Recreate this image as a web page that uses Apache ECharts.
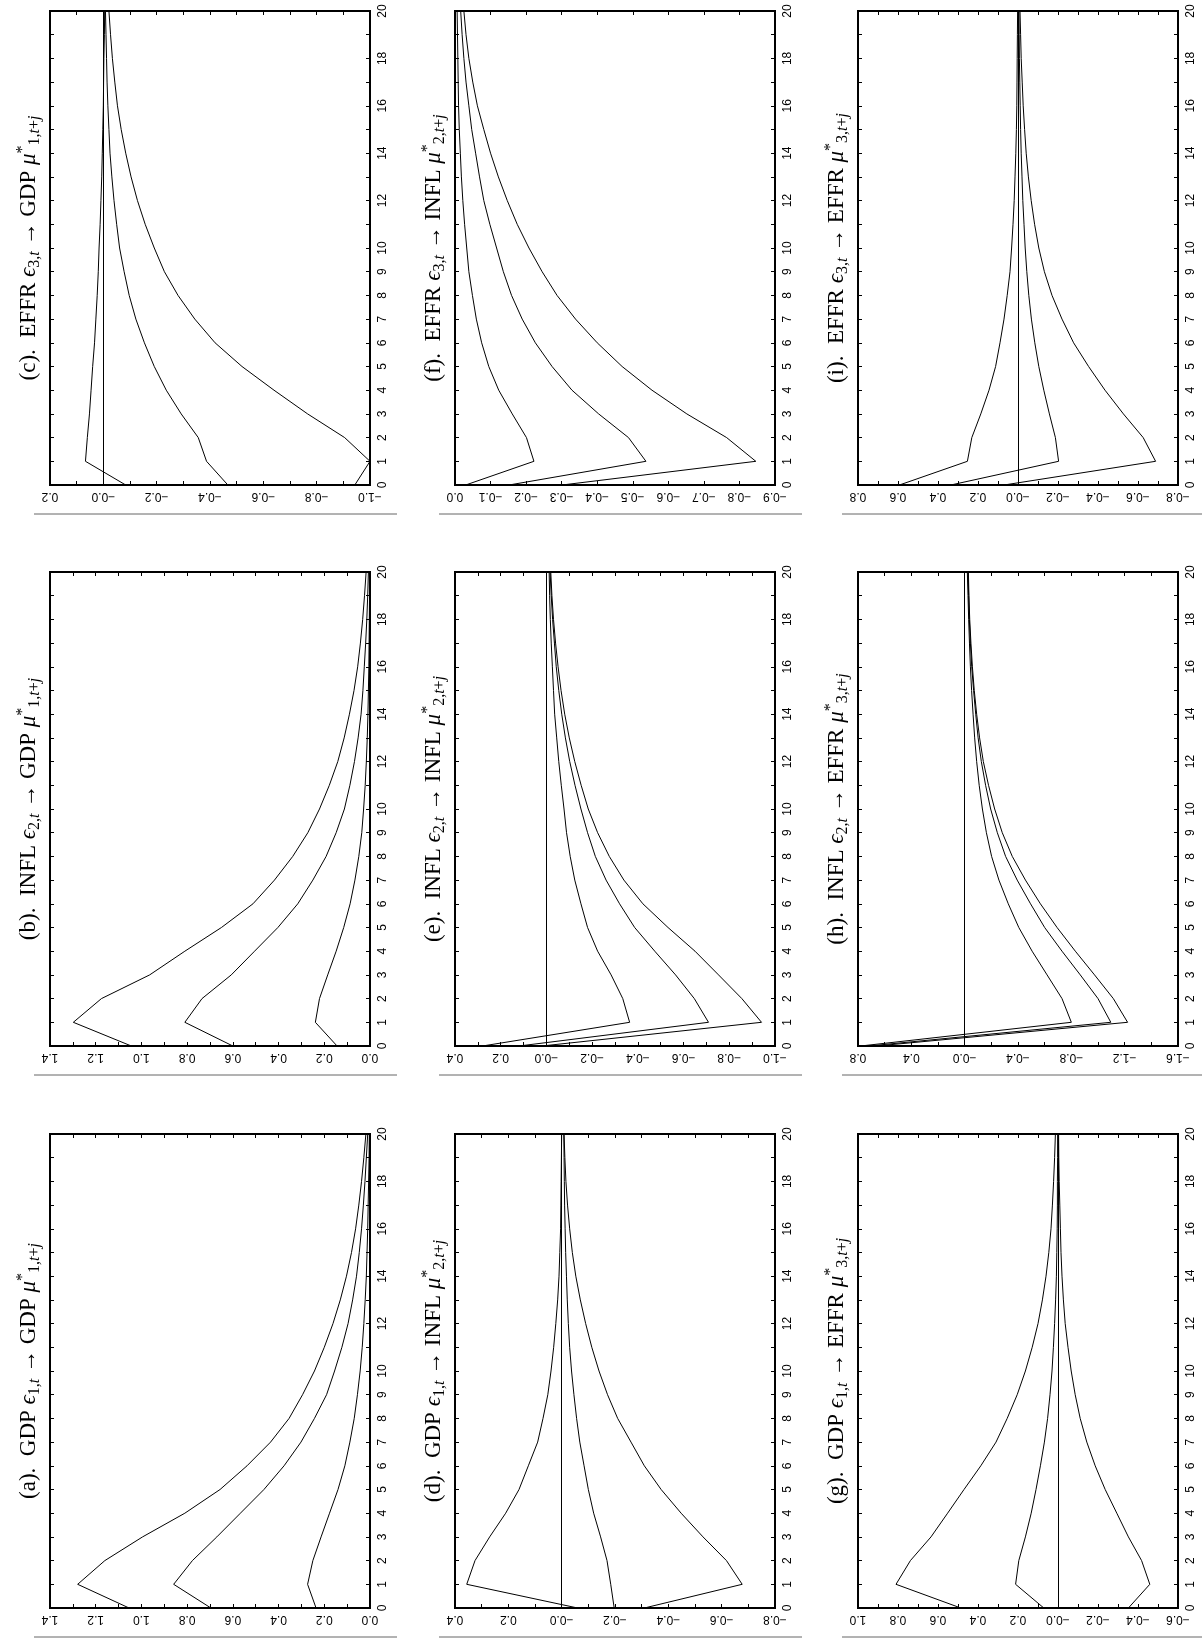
<!DOCTYPE html>
<html>
<head>
<meta charset="utf-8">
<script src="https://cdn.jsdelivr.net/npm/echarts@6/dist/echarts.min.js"></script>
<style>
html,body{margin:0;padding:0;background:#fff;}
#chart{width:1202px;height:1640px;}
</style>
</head>
<body>
<div id="chart"></div>
<script>
// ---------------- DATA ----------------
const horizon = [0,1,2,3,4,5,6,7,8,9,10,11,12,13,14,15,16,17,18,19,20];
const horizonLabels = ['0','1','2','3','4','5','6','7','8','9','10','','12','','14','','16','','18','','20'];

// (a) GDP shock -> GDP
const aUpper = [1.054,1.279,1.16,0.995,0.81,0.656,0.538,0.435,0.354,0.295,0.243,0.2,0.162,0.13,0.103,0.081,0.063,0.049,0.037,0.027,0.018];
const aMid   = [0.696,0.859,0.777,0.67,0.567,0.464,0.376,0.302,0.243,0.19,0.155,0.123,0.096,0.076,0.059,0.047,0.037,0.029,0.022,0.016,0.01];
const aLower = [0.236,0.273,0.25,0.214,0.177,0.14,0.11,0.088,0.069,0.055,0.043,0.034,0.027,0.021,0.016,0.013,0.01,0.008,0.006,0.004,0.003];
const aTicks = ['0.0','0.2','0.4','0.6','0.8','1.0','1.2','1.4'];

// (b) INFL shock -> GDP
const bUpper = [1.044,1.298,1.175,0.964,0.81,0.65,0.512,0.418,0.338,0.272,0.221,0.178,0.141,0.113,0.09,0.07,0.054,0.042,0.032,0.024,0.017];
const bMid   = [0.6,0.81,0.735,0.607,0.505,0.403,0.316,0.25,0.192,0.148,0.112,0.088,0.068,0.052,0.039,0.031,0.025,0.019,0.014,0.01,0.007];
const bLower = [0.144,0.239,0.221,0.185,0.148,0.115,0.087,0.066,0.049,0.036,0.028,0.021,0.016,0.012,0.009,0.007,0.005,0.004,0.003,0.002,0.002];
const bTicks = ['0.0','0.2','0.4','0.6','0.8','1.0','1.2','1.4'];

// (c) EFFR shock -> GDP
const cUpper = [-0.084,0.067,0.06,0.052,0.046,0.04,0.033,0.028,0.023,0.019,0.016,0.012,0.009,0.006,0.004,0.002,0.0,-0.001,-0.002,-0.004,-0.005];
const cMid   = [-0.467,-0.387,-0.356,-0.292,-0.236,-0.191,-0.154,-0.122,-0.097,-0.078,-0.061,-0.05,-0.04,-0.032,-0.025,-0.021,-0.017,-0.014,-0.012,-0.01,-0.008];
const cLower = [-0.943,-1.0,-0.905,-0.766,-0.64,-0.52,-0.419,-0.343,-0.28,-0.229,-0.191,-0.157,-0.128,-0.104,-0.084,-0.067,-0.053,-0.043,-0.034,-0.027,-0.021];
const cTicks = ['\u22121.0','\u22120.8','\u22120.6','\u22120.4','\u22120.2','\u22120.0','0.2'];

// (d) GDP shock -> INFL
const dUpper = [-0.06,0.356,0.325,0.27,0.21,0.16,0.125,0.09,0.07,0.052,0.04,0.03,0.022,0.015,0.01,0.007,0.004,0.003,0.002,0.001,0.0];
const dMid   = [-0.197,-0.184,-0.17,-0.146,-0.12,-0.1,-0.084,-0.068,-0.056,-0.046,-0.037,-0.03,-0.025,-0.021,-0.018,-0.015,-0.013,-0.011,-0.01,-0.009,-0.008];
const dLower = [-0.31,-0.677,-0.618,-0.53,-0.448,-0.373,-0.31,-0.26,-0.21,-0.172,-0.14,-0.113,-0.09,-0.07,-0.053,-0.04,-0.03,-0.022,-0.016,-0.012,-0.009];
const dTicks = ['\u22120.8','\u22120.6','\u22120.4','\u22120.2','\u22120.0','0.2','0.4'];

// (e) INFL shock -> INFL
const eUpper = [0.28,-0.364,-0.334,-0.283,-0.224,-0.18,-0.151,-0.124,-0.104,-0.088,-0.077,-0.065,-0.054,-0.045,-0.036,-0.031,-0.026,-0.021,-0.017,-0.014,-0.012];
const eMid   = [0.12,-0.709,-0.647,-0.565,-0.474,-0.386,-0.32,-0.261,-0.214,-0.18,-0.151,-0.125,-0.102,-0.083,-0.067,-0.054,-0.043,-0.035,-0.027,-0.021,-0.016];
const eLower = [0.02,-0.941,-0.855,-0.753,-0.65,-0.532,-0.422,-0.339,-0.275,-0.224,-0.183,-0.152,-0.124,-0.1,-0.08,-0.064,-0.051,-0.04,-0.031,-0.024,-0.019];
const eTicks = ['\u22121.0','\u22120.8','\u22120.6','\u22120.4','\u22120.2','\u22120.0','0.2','0.4'];

// (f) EFFR shock -> INFL
const fUpper = [-0.03,-0.222,-0.201,-0.161,-0.123,-0.095,-0.075,-0.06,-0.049,-0.039,-0.033,-0.027,-0.022,-0.018,-0.015,-0.012,-0.01,-0.009,-0.008,-0.007,-0.006];
const fMid   = [-0.152,-0.537,-0.488,-0.404,-0.329,-0.273,-0.226,-0.189,-0.159,-0.136,-0.117,-0.098,-0.081,-0.069,-0.058,-0.047,-0.039,-0.031,-0.025,-0.02,-0.016];
const fLower = [-0.301,-0.846,-0.764,-0.652,-0.554,-0.47,-0.4,-0.339,-0.287,-0.245,-0.208,-0.175,-0.147,-0.122,-0.1,-0.081,-0.063,-0.05,-0.039,-0.031,-0.025];
const fTicks = ['\u22120.9','\u22120.8','\u22120.7','\u22120.6','\u22120.5','\u22120.4','\u22120.3','\u22120.2','\u22120.1','0.0'];

// (g) GDP shock -> EFFR
const gUpper = [0.486,0.81,0.738,0.635,0.552,0.47,0.386,0.31,0.254,0.204,0.163,0.129,0.1,0.078,0.06,0.046,0.035,0.028,0.022,0.017,0.013];
const gMid   = [0.071,0.212,0.196,0.163,0.134,0.11,0.088,0.068,0.052,0.04,0.03,0.023,0.017,0.012,0.008,0.006,0.004,0.003,0.003,0.002,0.002];
const gLower = [-0.352,-0.459,-0.418,-0.352,-0.294,-0.236,-0.186,-0.144,-0.111,-0.086,-0.066,-0.05,-0.036,-0.027,-0.02,-0.015,-0.012,-0.009,-0.006,-0.004,-0.003];
const gTicks = ['\u22120.6','\u22120.4','\u22120.2','\u22120.0','0.2','0.4','0.6','0.8','1.0'];

// (h) INFL shock -> EFFR
const hUpper = [0.78,-0.8,-0.73,-0.618,-0.506,-0.406,-0.327,-0.257,-0.202,-0.163,-0.133,-0.109,-0.09,-0.075,-0.063,-0.052,-0.043,-0.036,-0.03,-0.025,-0.02];
const hMid   = [0.72,-1.096,-1.0,-0.867,-0.73,-0.6,-0.494,-0.394,-0.307,-0.245,-0.195,-0.157,-0.125,-0.101,-0.083,-0.067,-0.053,-0.043,-0.035,-0.03,-0.025];
const hLower = [0.66,-1.222,-1.115,-0.974,-0.83,-0.693,-0.568,-0.456,-0.357,-0.282,-0.225,-0.179,-0.14,-0.112,-0.09,-0.072,-0.058,-0.047,-0.038,-0.032,-0.028];
const hTicks = ['\u22121.6','\u22121.2','\u22120.8','\u22120.4','\u22120.0','0.4','0.8'];

// (i) EFFR shock -> EFFR
const iUpper = [0.593,0.253,0.231,0.186,0.145,0.112,0.09,0.07,0.054,0.04,0.032,0.025,0.019,0.015,0.011,0.008,0.006,0.005,0.004,0.003,0.002];
const iMid   = [0.336,-0.203,-0.187,-0.157,-0.129,-0.104,-0.084,-0.067,-0.054,-0.044,-0.036,-0.03,-0.024,-0.02,-0.016,-0.013,-0.011,-0.009,-0.007,-0.006,-0.005];
const iLower = [0.07,-0.688,-0.626,-0.527,-0.435,-0.353,-0.278,-0.22,-0.17,-0.132,-0.104,-0.083,-0.066,-0.052,-0.041,-0.033,-0.026,-0.021,-0.016,-0.013,-0.01];
const iTicks = ['\u22120.8','\u22120.6','\u22120.4','\u22120.2','\u22120.0','0.2','0.4','0.6','0.8'];

// titles
const panelLetters = ['a','b','c','d','e','f','g','h','i'];
const varNames = ['GDP','INFL','EFFR'];

// ---------------- PANEL SETUP ----------------
const panels = [
  {u:aUpper,m:aMid,l:aLower,ticks:aTicks,min:0,   max:1.4,step:0.2,minor:true, zero:false},
  {u:bUpper,m:bMid,l:bLower,ticks:bTicks,min:0,   max:1.4,step:0.2,minor:true, zero:false},
  {u:cUpper,m:cMid,l:cLower,ticks:cTicks,min:-1.0,max:0.2,step:0.2,minor:true, zero:true},
  {u:dUpper,m:dMid,l:dLower,ticks:dTicks,min:-0.8,max:0.4,step:0.2,minor:true, zero:true},
  {u:eUpper,m:eMid,l:eLower,ticks:eTicks,min:-1.0,max:0.4,step:0.2,minor:true, zero:true},
  {u:fUpper,m:fMid,l:fLower,ticks:fTicks,min:-0.9,max:0.0,step:0.1,minor:false,zero:false},
  {u:gUpper,m:gMid,l:gLower,ticks:gTicks,min:-0.6,max:1.0,step:0.2,minor:true, zero:true},
  {u:hUpper,m:hMid,l:hLower,ticks:hTicks,min:-1.6,max:0.8,step:0.4,minor:true, zero:true},
  {u:iUpper,m:iMid,l:iLower,ticks:iTicks,min:-0.8,max:0.8,step:0.2,minor:true, zero:true}
];

const colLeft = [50, 455, 858];
const rowTop = [11, 572, 1134];
const W = 320, HH = 474;
const labelFont = 'Liberation Sans, Arial, Helvetica, sans-serif';
const titleFont = 'Liberation Serif, Times New Roman, DejaVu Serif, serif';

const grids = [], xAxes = [], yAxes = [], series = [], graphics = [];

panels.forEach((p, i) => {
  const col = Math.floor(i / 3);
  const row = 2 - (i % 3);
  const L = colLeft[col], T = rowTop[row];
  const shock = i % 3;
  const resp = col;

  grids.push({
    left: L, top: T, width: W, height: HH,
    show: true, borderColor: '#000', borderWidth: 2,
    backgroundColor: 'transparent', containLabel: false, outerBoundsMode: 'none'
  });

  const fmt = v => {
    const k = Math.round((v - p.min) / p.step);
    return (p.ticks[k] !== undefined) ? p.ticks[k] : '';
  };
  const tickStyle = {color: '#000', width: 1};
  const valCommon = {
    type: 'value', gridIndex: i, min: p.min, max: p.max, interval: p.step, inverse: true,
    axisLine: {show: false, onZero: false},
    splitLine: {show: false},
    axisTick: {show: true, inside: true, length: 4, lineStyle: tickStyle},
    minorTick: {show: p.minor, splitNumber: 2, length: 4, lineStyle: tickStyle},
    minorSplitLine: {show: false}
  };
  xAxes.push(Object.assign({}, valCommon, {
    position: 'bottom',
    axisLabel: {show: true, rotate: 180, margin: 5, formatter: fmt,
      fontFamily: labelFont, fontSize: 12, color: '#000',
      showMinLabel: true, showMaxLabel: true, hideOverlap: false}
  }));
  xAxes.push(Object.assign({}, valCommon, {position: 'top', axisLabel: {show: false}}));

  const hCommon = {
    type: 'value', gridIndex: i, min: 0, max: 20, interval: 1,
    axisLine: {show: false, onZero: false},
    splitLine: {show: false},
    axisTick: {show: true, inside: true, length: 4, lineStyle: tickStyle}
  };
  yAxes.push(Object.assign({}, hCommon, {
    position: 'right',
    axisLabel: {show: true, rotate: 90, margin: 7,
      formatter: v => { const s = horizonLabels[Math.round(v)]; return s === undefined ? '' : s; },
      fontFamily: labelFont, fontSize: 12, color: '#000',
      showMinLabel: true, showMaxLabel: true, hideOverlap: false}
  }));
  yAxes.push(Object.assign({}, hCommon, {position: 'left', axisLabel: {show: false}}));

  [p.u, p.m, p.l].forEach((arr, k) => {
    const s = {
      type: 'line', xAxisIndex: 2 * i, yAxisIndex: 2 * i,
      data: arr.map((v, j) => [v, horizon[j]]),
      symbol: 'none', showSymbol: false,
      lineStyle: {color: '#000', width: 1},
      itemStyle: {color: '#000'},
      animation: false, silent: true, z: 3
    };
    if (k === 0 && p.zero) {
      s.markLine = {
        silent: true, animation: false, symbol: ['none', 'none'],
        label: {show: false},
        lineStyle: {color: '#000', width: 1, type: 'solid'},
        data: [{xAxis: 0}]
      };
    }
    series.push(s);
  });

  // separator rule
  const ry = T + HH + 29;
  graphics.push({
    type: 'line', silent: true,
    shape: {x1: L - 16, y1: ry, x2: Math.min(L + W + 27, 1202), y2: ry},
    style: {stroke: '#666', lineWidth: 1}
  });

  // title
  const sIdx = String(shock + 1), rIdx = String(resp + 1);
  const txt = '{n|(' + panelLetters[i] + ').  ' + varNames[shock] + ' }{m|\u03F5}{sr|' + sIdx + ',}{si|t}' +
              '{n| \u2192 ' + varNames[resp] + ' }{m|\u03BC}{sp|*}{sr|' + rIdx + ',}{si|t}{sr|+}{si|j}';
  graphics.push({
    type: 'text', silent: true,
    x: L - 21, y: T + HH / 2, rotation: Math.PI / 2,
    style: {
      text: txt,
      fill: '#000', fontSize: 23, fontFamily: titleFont,
      align: 'center', verticalAlign: 'middle',
      textAlign: 'center', textVerticalAlign: 'middle',
      rich: {
        n:  {fontSize: 23, fontFamily: titleFont, fill: '#000', lineHeight: 28},
        m:  {fontSize: 23, fontFamily: titleFont, fontStyle: 'italic', fill: '#000', lineHeight: 28},
        sr: {fontSize: 16, fontFamily: titleFont, fill: '#000', verticalAlign: 'bottom', lineHeight: 16},
        si: {fontSize: 16, fontFamily: titleFont, fontStyle: 'italic', fill: '#000', verticalAlign: 'bottom', lineHeight: 16},
        sp: {fontSize: 16, fontFamily: titleFont, fill: '#000', verticalAlign: 'top', lineHeight: 14}
      }
    }
  });
});

const chart = echarts.init(document.getElementById('chart'), null, {renderer: 'canvas'});
chart.setOption({
  backgroundColor: '#fff',
  animation: false,
  textStyle: {fontFamily: labelFont},
  grid: grids,
  xAxis: xAxes,
  yAxis: yAxes,
  series: series,
  graphic: {elements: graphics}
});
</script>
</body>
</html>
